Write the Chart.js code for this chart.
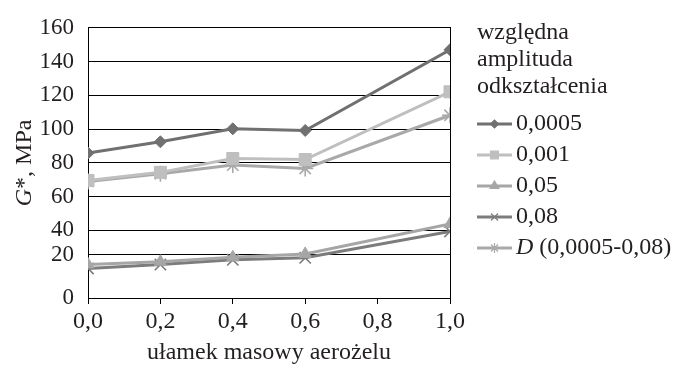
<!DOCTYPE html>
<html>
<head>
<meta charset="utf-8">
<script src="https://cdn.jsdelivr.net/npm/chart.js@4.4.1/dist/chart.umd.min.js"></script>
<style>
  html, body { margin: 0; padding: 0; background: #fff; }
  #wrap { width: 693px; height: 367px; }
</style>
</head>
<body>
<div id="wrap"><canvas id="chart"></canvas></div>
<script>
// --- DATA ---
const massFraction = [0.0, 0.2, 0.4, 0.6, 1.0];
const seriesNames = ['0,0005', '0,001', '0,05', '0,08', 'D (0,0005-0,08)'];
const g0005 = [85.8, 92.5, 100.2, 99.2, 147.0];
const g001 = [69.6, 74.4, 82.6, 82.0, 122.1];
const g005 = [19.9, 21.5, 24.1, 26.1, 43.8];
const g008 = [17.5, 19.8, 22.6, 23.8, 39.4];
const gD = [69.0, 73.6, 78.7, 76.7, 108.2];
const xTicks = [0, 0.2, 0.4, 0.6, 0.8, 1.0];
const xTickLabels = ['0,0', '0,2', '0,4', '0,6', '0,8', '1,0'];
// the "20" line sits higher than a regular step in the original figure
const yTicks = [0, 25.5, 40, 60, 80, 100, 120, 140, 160];
const yTickLabels = ['0', '20', '40', '60', '80', '100', '120', '140', '160'];
const legendTitle = ['względna', 'amplituda', 'odkształcenia'];
const xTitle = 'ułamek masowy aerożelu';

// --- STYLE ---
const SERIF = "'Liberation Serif', 'Times New Roman', serif";
const TEXT = '#231f20';
const FS = 24;
const colors = ['#707070', '#bfbfbf', '#a6a6a6', '#7c7c7c', '#a9a9a9'];
const styles = ['rectRot', 'rect', 'triangle', 'crossRot', 'star'];
const radii = [6, 8.5, 7, 8, 8];
const legendRadii = [4, 5.5, 5, 5, 5];

const seriesValues = [g0005, g001, g005, g008, gD];

const datasets = seriesValues.map((vals, i) => ({
    label: seriesNames[i],
    data: vals.map((v, j) => ({ x: massFraction[j], y: v })),
    borderColor: colors[i],
    backgroundColor: colors[i],
    borderWidth: 3,
    tension: 0,
    pointStyle: styles[i],
    pointRadius: radii[i],
    pointBorderWidth: (styles[i] === 'crossRot' || styles[i] === 'star') ? 1.6 : 1,
    pointBorderColor: colors[i],
    pointBackgroundColor: colors[i],
}));

// --- SIDE LEGEND + Y TITLE ---
const sideText = {
    id: 'sideText',
    afterDraw(chart) {
        const ctx = chart.ctx;
        const area = chart.chartArea;
        ctx.save();
        ctx.fillStyle = TEXT;
        ctx.textBaseline = 'middle';
        ctx.textAlign = 'left';
        ctx.font = `${FS}px ${SERIF}`;
        legendTitle.forEach((t, i) => ctx.fillText(t, 477, 33 + i * 27));

        chart.data.datasets.forEach((ds, i) => {
            const y = 124 + i * 31;
            ctx.strokeStyle = ds.borderColor;
            ctx.lineWidth = 3;
            ctx.beginPath();
            ctx.moveTo(477, y);
            ctx.lineTo(512, y);
            ctx.stroke();
            ctx.fillStyle = ds.borderColor;
            ctx.lineWidth = 1.2;
            Chart.helpers.drawPoint(ctx, {
                pointStyle: ds.pointStyle, radius: legendRadii[i], borderWidth: 1.2, rotation: 0
            }, 494.5, y);
            ctx.fillStyle = TEXT;
            let x = 516;
            let name = ds.label;
            if (name.startsWith('D ')) {
                ctx.font = `italic ${FS}px ${SERIF}`;
                ctx.fillText('D', x, y);
                x += ctx.measureText('D').width;
                name = name.slice(1);
            }
            ctx.font = `${FS}px ${SERIF}`;
            ctx.fillText(name, x, y);
        });

        // y title: italic G, rest upright
        ctx.translate(25, (area.top + area.bottom) / 2);
        ctx.rotate(-Math.PI / 2);
        ctx.font = `italic ${FS}px ${SERIF}`;
        const wG = ctx.measureText('G').width;
        ctx.font = `${FS}px ${SERIF}`;
        const rest = '*, MPa';
        const wR = ctx.measureText(rest).width;
        let sx = -(wG + wR) / 2;
        ctx.font = `italic ${FS}px ${SERIF}`;
        ctx.fillText('G', sx, 0);
        ctx.font = `${FS}px ${SERIF}`;
        ctx.fillText(rest, sx + wG, 0);
        ctx.restore();
    }
};

new Chart(document.getElementById('chart').getContext('2d'), {
    type: 'line',
    data: { datasets },
    plugins: [sideText],
    options: {
        responsive: true,
        maintainAspectRatio: false,
        animation: false,
        layout: { padding: { top: 19, right: 243, left: 0, bottom: 0 } },
        plugins: { legend: { display: false }, tooltip: { enabled: false } },
        scales: {
            x: {
                type: 'linear',
                min: 0, max: 1,
                afterBuildTicks: s => { s.ticks = xTicks.map(v => ({ value: v })); },
                afterFit: s => { s.height = 69; },
                ticks: {
                    color: TEXT, font: { family: SERIF, size: FS }, padding: 3,
                    maxRotation: 0,
                    callback: (v, i) => xTickLabels[i]
                },
                grid: { drawOnChartArea: false, drawTicks: true, tickLength: 6, color: '#000', lineWidth: 1 },
                border: { color: '#000', width: 1 },
                title: {
                    display: true, text: xTitle, color: TEXT,
                    font: { family: SERIF, size: FS }, padding: { top: 0, bottom: 0 }
                }
            },
            y: {
                min: 0, max: 160,
                afterBuildTicks: s => { s.ticks = yTicks.map(v => ({ value: v })); },
                afterFit: s => { s.width = 88; },
                ticks: {
                    color: TEXT, font: { family: SERIF, size: 23 }, padding: 14,
                    callback: (v, i) => yTickLabels[i]
                },
                grid: { color: '#000', lineWidth: 1, drawTicks: false },
                border: { color: '#000', width: 1 }
            },
            yRight: {
                position: 'right',
                min: 0, max: 160,
                afterFit: s => { s.width = 0; },
                ticks: { display: false },
                grid: { display: false, drawTicks: false },
                border: { display: true, color: '#000', width: 1 }
            }
        }
    }
});
</script>
</body>
</html>
